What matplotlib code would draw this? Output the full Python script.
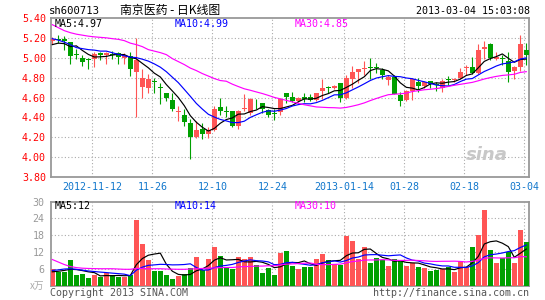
import numpy as np
import pandas as pd
import matplotlib
matplotlib.use("Agg")
import matplotlib.pyplot as plt

# ---------------- data ----------------
opens = [5.17, 5.19, 5.19, 5.16, 5.04, 5.00, 4.99, 4.99, 5.05, 5.03,
         5.04, 5.05, 5.00, 5.02, 4.86, 4.71, 4.70, 4.77, 4.71, 4.65,
         4.57, 4.45, 4.42, 4.34, 4.20, 4.28, 4.23, 4.27, 4.50, 4.46,
         4.46, 4.31, 4.48, 4.44, 4.535, 4.54, 4.47, 4.44, 4.45, 4.65,
         4.61, 4.56, 4.61, 4.61, 4.57, 4.67, 4.70, 4.70, 4.75, 4.59,
         4.79, 4.86, 4.89, 4.91, 4.90, 4.88, 4.78, 4.81, 4.63, 4.57,
         4.67, 4.76, 4.72, 4.77, 4.73, 4.70, 4.78, 4.78, 4.80, 4.90,
         4.91, 4.85, 5.09, 5.14, 4.99, 4.99, 4.97, 4.87, 4.91, 5.08]
highs = [5.21, 5.23, 5.22, 5.16, 5.09, 5.03, 5.00, 5.06, 5.06, 5.06,
         5.07, 5.06, 5.05, 5.06, 5.20, 4.89, 4.84, 4.80, 4.75, 4.65,
         4.65, 4.51, 4.48, 4.38, 4.36, 4.34, 4.30, 4.51, 4.59, 4.51,
         4.46, 4.47, 4.64, 4.59, 4.58, 4.54, 4.48, 4.48, 4.59, 4.65,
         4.66, 4.61, 4.65, 4.64, 4.65, 4.79, 4.72, 4.725, 4.75, 4.83,
         4.92, 4.89, 4.97, 5.00, 4.95, 4.90, 4.83, 4.83, 4.66, 4.68,
         4.80, 4.80, 4.77, 4.77, 4.76, 4.79, 4.82, 4.80, 4.90, 4.93,
         5.01, 5.14, 5.17, 5.15, 5.06, 5.03, 5.06, 4.92, 5.23, 5.15]
lows = [5.14, 5.15, 5.08, 4.94, 4.99, 4.92, 4.89, 4.91, 4.98, 4.94,
        4.99, 4.94, 4.94, 4.82, 4.40, 4.60, 4.65, 4.65, 4.53, 4.56,
        4.46, 4.36, 4.31, 3.98, 4.19, 4.18, 4.19, 4.26, 4.42, 4.40,
        4.30, 4.28, 4.46, 4.42, 4.48, 4.44, 4.40, 4.37, 4.42, 4.54,
        4.55, 4.555, 4.55, 4.56, 4.56, 4.58, 4.65, 4.69, 4.55, 4.58,
        4.70, 4.75, 4.83, 4.79, 4.85, 4.79, 4.73, 4.64, 4.51, 4.56,
        4.57, 4.66, 4.70, 4.70, 4.67, 4.66, 4.73, 4.76, 4.79, 4.83,
        4.84, 4.84, 4.99, 4.98, 4.98, 4.93, 4.76, 4.79, 4.87, 4.93]
closes = [5.19, 5.18, 5.17, 5.02, 5.03, 4.96, 4.98, 5.04, 5.03, 5.05,
          5.03, 5.01, 5.03, 4.89, 4.98, 4.80, 4.79, 4.76, 4.70, 4.60,
          4.48, 4.46, 4.35, 4.20, 4.27, 4.23, 4.27, 4.48, 4.46, 4.455,
          4.31, 4.46, 4.49, 4.58, 4.53, 4.48, 4.42, 4.435, 4.58, 4.61,
          4.56, 4.60, 4.58, 4.57, 4.65, 4.70, 4.695, 4.72, 4.59, 4.80,
          4.86, 4.89, 4.90, 4.90, 4.895, 4.83, 4.81, 4.64, 4.56, 4.67,
          4.79, 4.72, 4.76, 4.74, 4.725, 4.77, 4.775, 4.79, 4.86, 4.91,
          4.85, 5.08, 5.11, 5.00, 5.01, 4.985, 4.86, 4.91, 5.14, 5.03]
volumes = [5.9, 4.8, 5.0, 9.1, 3.7, 4.1, 2.6, 3.6, 3.2, 4.3,
           3.8, 3.1, 3.1, 3.6, 23.5, 14.9, 9.1, 5.2, 5.2, 3.7,
           2.4, 3.4, 4.1, 6.2, 10.2, 5.6, 9.5, 13.8, 10.6, 6.2,
           6.0, 10.2, 9.5, 10.2, 7.3, 4.4, 6.4, 3.7, 11.6, 12.5,
           7.1, 6.0, 6.7, 6.7, 9.5, 11.3, 9.1, 7.7, 7.4, 17.8,
           16.1, 9.6, 13.8, 8.0, 9.8, 9.1, 7.0, 9.4, 8.9, 7.0,
           8.2, 6.6, 6.2, 5.3, 5.5, 6.0, 6.8, 4.8, 8.6, 6.6,
           13.8, 18.2, 27.1, 12.7, 8.0, 9.8, 12.0, 8.0, 19.9, 15.6]

# moving-average values before a full window exists
ma5_head = [5.13, 5.145, 5.14, 5.11]
ma10_head = [5.19, 5.175, 5.155, 5.13, 5.10, 5.09, 5.08, 5.075, 5.065]
ma30_head = [5.33, 5.30, 5.27, 5.25, 5.235, 5.225, 5.215, 5.208, 5.203, 5.198,
             5.19, 5.183, 5.17, 5.145, 5.13, 5.11, 5.08, 5.065, 5.05, 5.03,
             4.99, 4.96, 4.93, 4.895, 4.87, 4.84, 4.815, 4.79, 4.77]
vma5_head = [4.9, 5.1, 5.4, 5.8]
vma10_head = [5.4, 5.6, 5.9, 6.0, 5.8, 5.5, 5.2, 5.0, 4.8]
vma30_head = [9.3, 8.4, 7.5, 6.8, 6.4, 6.2, 6.1, 6.05, 6.0, 6.0,
              6.0, 5.9, 5.8, 5.8, 6.1, 6.1, 6.0, 6.0, 6.0, 5.9,
              5.85, 5.8, 5.8, 5.9, 6.0, 6.1, 6.2, 6.3, 6.4]

price_ma_labels = ["MA5:4.97", "MA10:4.99", "MA30:4.85"]
vol_ma_labels = ["MA5:12", "MA10:14", "MA30:10"]

tick_dates = ["2012-11-12", "2012-11-26", "2012-12-10", "2012-12-24",
              "2013-01-14", "2013-01-28", "2013-02-18", "2013-03-04"]
tick_labels = ["2012-11-12", "11-26", "12-10", "12-24",
               "2013-01-14", "01-28", "02-18", "03-04"]
holidays = ["2013-01-01", "2013-01-02", "2013-01-03",
            "2013-02-11", "2013-02-12", "2013-02-13", "2013-02-14", "2013-02-15"]
price_ticks = [3.80, 4.00, 4.20, 4.40, 4.60, 4.80, 5.00, 5.20, 5.40]
vol_ticks = [6, 12, 18, 24, 30]

# ---------------- derived ----------------
dates = pd.bdate_range("2012-11-01", "2013-03-04")
dates = dates[~dates.isin(pd.to_datetime(holidays))]
n = len(closes)
x = np.arange(n)
tick_pos = [int(np.where(dates == pd.Timestamp(d))[0][0]) - 0.33 for d in tick_dates]


def moving(values, w, head):
    s = pd.Series(values).rolling(w).mean().to_numpy()
    s[:w - 1] = head
    return s


o = np.array(opens); c = np.array(closes); h = np.array(highs); l = np.array(lows)
v = np.array(volumes)
up = c >= o
RED, GREEN = "#ff5555", "#00a000"
cols = np.where(up, RED, GREEN)
MA_COLS = ["#000000", "#0000ff", "#ff00ff"]

W, H = 545, 300
fig = plt.figure(figsize=(W / 100, H / 100), dpi=100)
fig.patch.set_facecolor("white")


def rect(left, top, right, bottom):
    return [left / W, 1 - bottom / H, (right - left) / W, (bottom - top) / H]


ax = fig.add_axes(rect(50.7, 17.7, 529.3, 177.3))
axv = fig.add_axes(rect(50.7, 201.7, 529.3, 285.5))

MONO = "DejaVu Sans Mono"
GRID = dict(color="#aaaaaa", linewidth=0.8, linestyle=(0, (1, 2)))

for a in (ax, axv):
    a.set_xlim(-0.27, 79.5)
    for s in a.spines.values():
        s.set_color("#999999")
        s.set_linewidth(1.3)
    a.tick_params(length=0)
    for tp in tick_pos:
        a.axvline(tp, zorder=0, **GRID)

# price panel
ax.set_ylim(3.80, 5.40)
for yv in price_ticks[1:-1]:
    ax.axhline(yv, zorder=0, **GRID)
ax.set_yticks(price_ticks)
ax.set_yticklabels([f"{t:.2f}" for t in price_ticks], color="#ff0000",
                   fontsize=7.2, family=MONO)
ax.tick_params(axis="y", pad=3.5)
ax.set_xticks(tick_pos)
ax.set_xticklabels(tick_labels, color="#1177cc", fontsize=7.2, family=MONO)
ax.tick_params(axis="x", pad=3.5)

ax.vlines(x, l, h, colors=cols, linewidth=0.8, zorder=2)
body = np.maximum(np.abs(c - o), 0.008)
ax.bar(x, body, bottom=np.minimum(o, c), width=0.8, color=cols, linewidth=0, zorder=3)

for w, head, col in zip((5, 10, 30), (ma5_head, ma10_head, ma30_head), MA_COLS):
    ax.plot(x, moving(closes, w, head), color=col, linewidth=0.85, zorder=4)

for txt, xp, col in zip(price_ma_labels, (55, 175, 295), MA_COLS):
    fig.text(xp / W, 1 - 24 / H, txt, color=col, fontsize=7.2, family=MONO,
             va="center", ha="left")

ax.text(0.955, 0.14, "sina", transform=ax.transAxes, fontsize=13, fontstyle="italic",
        fontweight="bold", color="#c8c8c8", ha="right", va="center", zorder=1)

# volume panel
axv.set_ylim(0, 30)
for yv in vol_ticks[:-1]:
    axv.axhline(yv, zorder=0, **GRID)
axv.set_yticks(vol_ticks)
axv.set_yticklabels([str(t) for t in vol_ticks], color="#999999", fontsize=7.2, family=MONO)
axv.tick_params(axis="y", pad=4.5)
axv.set_xticks([])
axv.bar(x, v, width=0.8, color=cols, linewidth=0, zorder=3)
for w, head, col in zip((5, 10, 30), (vma5_head, vma10_head, vma30_head), MA_COLS):
    axv.plot(x, moving(volumes, w, head), color=col, linewidth=0.85, zorder=4)
for txt, xp, col in zip(vol_ma_labels, (55, 175, 295), MA_COLS):
    fig.text(xp / W, 1 - 206 / H, txt, color=col, fontsize=7.2, family=MONO,
             va="center", ha="left")

# header and footer texts
fig.text(49 / W, 1 - 10.5 / H, "sh600713", fontsize=7.6, family=MONO, va="center", ha="left")
fig.text(120 / W, 1 - 10 / H, "南京医药 - 日K线图", fontsize=8.6,
         family=["Noto Sans CJK SC", "DejaVu Sans"], va="center", ha="left")
fig.text(529.5 / W, 1 - 11 / H, "2013-03-04 15:03:08", fontsize=7.2, family=MONO,
         va="center", ha="right")
fig.text(44 / W, 1 - 286 / H, "x万", fontsize=7, color="#aaaaaa",
         family=["Noto Sans CJK SC", "DejaVu Sans"], va="center", ha="right")
fig.text(50 / W, 1 - 293 / H, "Copyright 2013 SINA.COM", fontsize=7.2, family=MONO,
         color="#555555", va="center", ha="left")
fig.text(529.5 / W, 1 - 293 / H, "http://finance.sina.com.cn", fontsize=7.2, family=MONO,
         color="#555555", va="center", ha="right")

fig.savefig("out.png", dpi=100)
